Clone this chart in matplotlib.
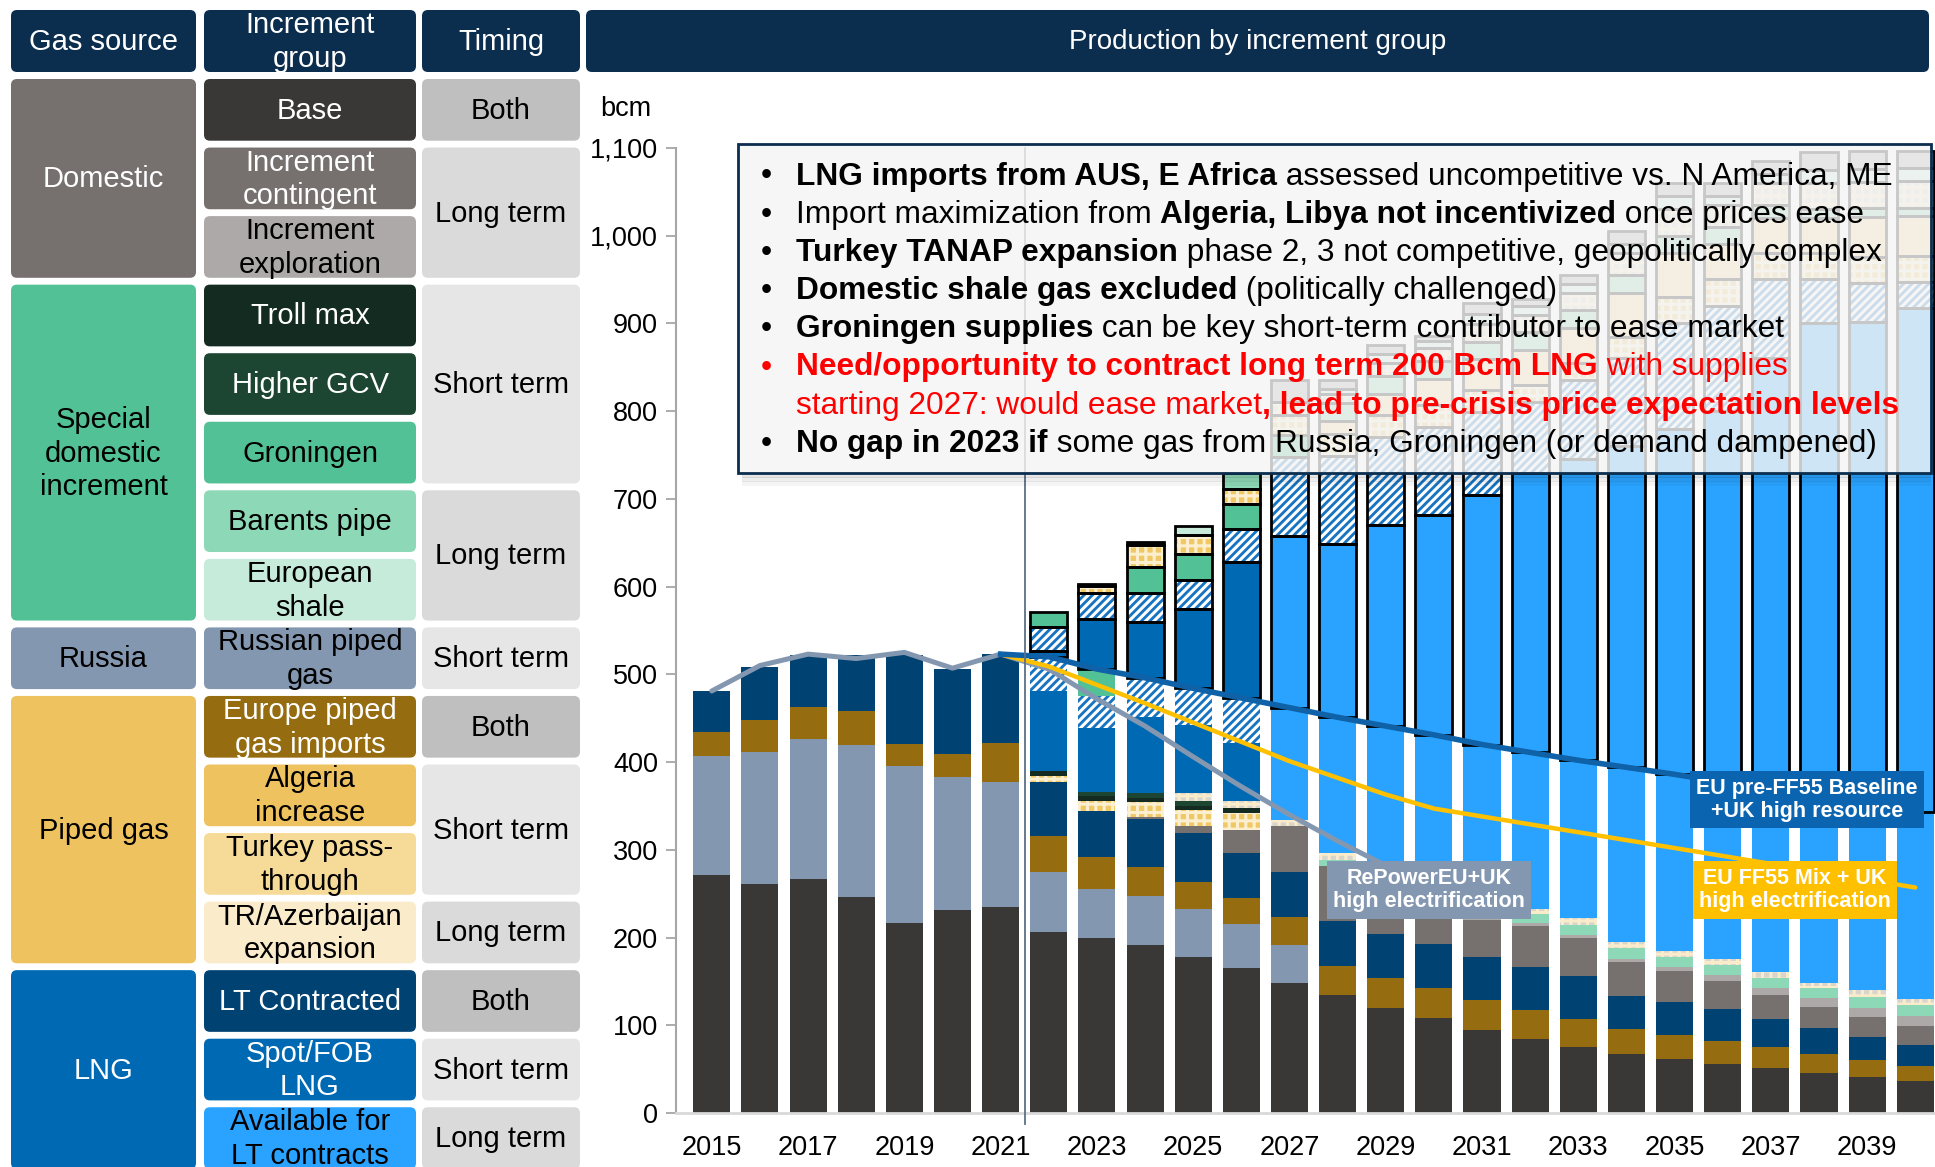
import numpy as np
import matplotlib
matplotlib.use('Agg')
import matplotlib.pyplot as plt
from matplotlib.patches import FancyBboxPatch, Rectangle

plt.rcParams['font.family'] = ['Liberation Sans', 'DejaVu Sans']
plt.rcParams['hatch.linewidth'] = 2.2

# ---------------- data (bcm) ----------------
years = list(range(2015, 2041))
up_years = list(range(2022, 2041))

# supply stack below the baseline demand line
base = [271, 261, 267, 246, 217, 231, 235, 206, 199, 191, 178, 165, 148, 134, 120, 108, 95, 84, 75, 67, 62, 56, 51, 46, 41, 37]
russian = [136, 150, 159, 173, 178, 152, 142, 69, 56, 56, 54, 50, 44, 0, 0, 0, 0, 0, 0, 0, 0, 0, 0, 0, 0, 0]
eu_piped = [27, 37, 37, 39, 26, 26, 45, 41, 37, 33, 31, 30, 31, 33, 34, 34, 34, 33, 32, 29, 27, 26, 24, 21, 19, 16]
lt_contracted = [47, 60, 59, 64, 101, 97, 101, 61, 52, 55, 56, 51, 52, 52, 50, 51, 49, 49, 49, 37, 37, 37, 32, 30, 27, 25]
contingent = [0, 0, 0, 0, 0, 0, 0, 0, 0, 2, 8, 27, 52, 62, 46, 44, 42, 47, 44, 39, 36, 32, 28, 24, 22, 21]
exploration = [0, 0, 0, 0, 0, 0, 0, 0, 0, 0, 0, 0, 0, 0, 0, 2, 3, 3, 3, 4, 4, 6, 8, 10, 11, 12]
barents = [0, 0, 0, 0, 0, 0, 0, 0, 0, 0, 0, 0, 0, 7, 8, 8, 9, 11, 11, 12, 12, 12, 11, 11, 12, 12]
algeria = [0, 0, 0, 0, 0, 0, 0, 7, 12, 17, 18, 19, 0, 0, 0, 0, 0, 0, 0, 0, 0, 0, 0, 0, 0, 0]
troll = [0, 0, 0, 0, 0, 0, 0, 6, 5, 5, 5, 6, 0, 0, 0, 0, 0, 0, 0, 0, 0, 0, 0, 0, 0, 0]
gcv = [0, 0, 0, 0, 0, 0, 0, 0, 5, 6, 6, 0, 0, 0, 0, 0, 0, 0, 0, 0, 0, 0, 0, 0, 0, 0]
tr_az = [0, 0, 0, 0, 0, 0, 0, 0, 0, 0, 9, 8, 7, 8, 8, 7, 6, 6, 8, 7, 7, 7, 7, 6, 8, 7]
spot = [0, 0, 0, 0, 0, 0, 0, 91, 73, 86, 77, 66, 0, 0, 0, 0, 0, 0, 0, 0, 0, 0, 0, 0, 0, 0]
lng_uncomp = [0, 0, 0, 0, 0, 0, 0, 39, 36, 45, 42, 51, 0, 0, 0, 0, 0, 0, 0, 0, 0, 0, 0, 0, 0, 0]
groningen = [0, 0, 0, 0, 0, 0, 0, 0, 31, 0, 0, 0, 0, 0, 0, 0, 0, 0, 0, 0, 0, 0, 0, 0, 0, 0]
available = [0, 0, 0, 0, 0, 0, 0, 0, 0, 0, 0, 0, 128, 155, 175, 177, 182, 178, 180, 199, 201, 201, 207, 212, 211, 213]

# supply available above the baseline demand (2022-2040)
up_spot = [7, 57, 64, 91, 155, 0, 0, 0, 0, 0, 0, 0, 0, 0, 0, 0, 0, 0, 0]
up_available = [0, 0, 0, 0, 0, 196, 198, 229, 251, 284, 319, 343, 366, 394, 423, 492, 540, 550, 574]
up_uncomp = [27, 30, 33, 32, 38, 90, 100, 100, 100, 95, 80, 90, 100, 120, 120, 90, 50, 45, 30]
up_groningen = [17, 0, 29, 30, 28, 25, 0, 0, 0, 0, 0, 0, 0, 0, 0, 0, 0, 0, 0]
up_algeria = [0, 8, 25, 22, 17, 22, 25, 25, 25, 25, 20, 20, 25, 30, 30, 30, 30, 30, 30]
up_turkey = [0, 0, 0, 0, 0, 0, 15, 25, 30, 35, 40, 40, 50, 50, 40, 40, 40, 45, 45]
up_troll = [0, 2, 4, 0, 0, 0, 0, 0, 0, 0, 0, 0, 0, 0, 0, 0, 0, 0, 0]
up_barents = [0, 0, 0, 0, 18, 0, 20, 20, 20, 20, 20, 20, 20, 20, 20, 15, 10, 10, 10]
up_traz = [0, 0, 0, 0, 0, 15, 10, 15, 15, 20, 20, 20, 25, 30, 25, 25, 30, 30, 30]
up_shale = [0, 0, 0, 10, 0, 0, 6, 10, 8, 12, 10, 10, 10, 15, 10, 10, 15, 15, 15]
up_exploration = [0, 0, 0, 0, 0, 25, 10, 10, 6, 12, 8, 10, 15, 15, 15, 15, 20, 20, 20]

# demand scenarios
baseline_years = list(range(2021, 2041))
baseline = [523, 520, 506, 496, 484, 473, 462, 451, 441, 431, 420, 411, 402, 394, 386, 377, 368, 360, 351, 343]
ff55 = [523, 509, 488, 467, 445, 423, 401, 382, 363, 347, 338, 329, 320, 311, 302, 293, 284, 275, 266, 257]
repower_years = list(range(2015, 2030))
repower = [481, 510, 523, 518, 525, 507, 523, 506, 472, 441, 406, 372, 340, 310, 282]

ytick_vals = list(range(0, 1101, 100))
ytick_labels = ['0', '100', '200', '300', '400', '500', '600', '700', '800', '900', '1,000', '1,100']
xtick_vals = list(range(2015, 2040, 2))

# ---------------- styles ----------------
styles = {
    'base': dict(color='#3A3837'),
    'russian': dict(color='#8497B0'),
    'eu_piped': dict(color='#956C10'),
    'lt': dict(color='#004272'),
    'contingent': dict(color='#76716F'),
    'exploration': dict(color='#ADA9A8'),
    'barents': dict(color='#8DD8B6'),
    'algeria': dict(color='#F0C866', hatch='++', hc='#FBEFD0'),
    'turkey': dict(color='#F6DA97'),
    'troll': dict(color='#132B20'),
    'gcv': dict(color='#1C4632'),
    'traz': dict(color='#D8D5CD', hatch='++', hc='#FAEBCB'),
    'spot': dict(color='#0069B3'),
    'uncomp': dict(color='#1874C1', hatch='////', hc='white'),
    'groningen': dict(color='#52C195'),
    'shale': dict(color='#C6EBDA'),
    'available': dict(color='#29A3FF'),
}

fig = plt.figure(figsize=(19.35, 11.67), dpi=100)
ax = fig.add_axes([676 / 1935, 1 - 1113 / 1167, 1 - 676 / 1935, (1113 - 77.7) / 1167])
ax.set_xlim(2014.256, 2040.41)
ax.set_ylim(0, 1180)

W = 0.77


def stack(xs, series, bottom, outline):
    xs = np.array(xs, float)
    bottom = np.array(bottom, float)
    for key, vals in series:
        vals = np.array(vals, float)
        st = styles[key]
        m = vals > 0
        if not m.any():
            continue
        ax.bar(xs[m], vals[m], bottom=bottom[m], width=W, color=st['color'],
               hatch=st.get('hatch'), edgecolor=st.get('hc', 'none'), linewidth=0, zorder=2)
        if outline:
            ax.bar(xs[m], vals[m], bottom=bottom[m], width=W, fill=False,
                   edgecolor='black', linewidth=2.0, zorder=3)
        bottom = bottom + vals


lower = [('base', base), ('russian', russian), ('eu_piped', eu_piped), ('lt', lt_contracted),
         ('contingent', contingent), ('exploration', exploration), ('barents', barents),
         ('algeria', algeria), ('troll', troll), ('gcv', gcv), ('traz', tr_az), ('spot', spot),
         ('uncomp', lng_uncomp), ('groningen', groningen), ('available', available)]
stack(years, lower, np.zeros(len(years)), False)

upper = [('spot', up_spot), ('available', up_available), ('uncomp', up_uncomp),
         ('groningen', up_groningen), ('algeria', up_algeria), ('turkey', up_turkey),
         ('troll', up_troll), ('barents', up_barents), ('traz', up_traz),
         ('shale', up_shale), ('exploration', up_exploration)]
stack(up_years, upper, baseline[1:], True)

# demand lines
ax.plot(repower_years, repower, color='#8497B0', lw=3.6, zorder=4, solid_capstyle='round')
ax.plot(baseline_years, ff55, color='#FFC000', lw=3.2, zorder=4, solid_capstyle='round')
ax.plot(baseline_years, baseline, color='#0F62A8', lw=4.0, zorder=4)
ax.plot([2021.5, 2021.5], [-12, 1100], color='#5B7086', lw=1.3, zorder=4, clip_on=False)

lab = dict(ha='center', va='center', color='white', weight='bold', fontsize=15.5, linespacing=1.15, zorder=6)
ax.text(2037.75, 357, 'EU pre-FF55 Baseline\n+UK high resource',
        bbox=dict(boxstyle='square,pad=0.3', fc='#0B64AF', ec='none'), **lab)
ax.text(2037.5, 254, 'EU FF55 Mix + UK\nhigh electrification',
        bbox=dict(boxstyle='square,pad=0.3', fc='#FFC000', ec='none'), **lab)
ax.text(2029.9, 254, 'RePowerEU+UK\nhigh electrification',
        bbox=dict(boxstyle='square,pad=0.3', fc='#8497B0', ec='none'), **lab)

# axes styling
for s in ['top', 'right']:
    ax.spines[s].set_visible(False)
ax.spines['left'].set_color('#A6A6A6')
ax.spines['left'].set_linewidth(1.5)
ax.spines['left'].set_bounds(0, 1100)
ax.spines['bottom'].set_color('#D9D9D9')
ax.spines['bottom'].set_linewidth(2)
ax.set_yticks(ytick_vals)
ax.set_yticklabels(ytick_labels)
ax.set_xticks(xtick_vals)
ax.set_xticklabels([str(y) for y in xtick_vals])
ax.tick_params(axis='y', length=7, width=1.3, color='#A6A6A6', labelsize=19.5, pad=6)
ax.tick_params(axis='x', length=0, labelsize=19.5, pad=16)

# ---------------- table, headers and note box (pixel coordinates) ----------------
tab = fig.add_axes([0, 0, 1, 1])
tab.set_xlim(0, 1935)
tab.set_ylim(1167, 0)
tab.axis('off')

HEAD = '#0B2D4E'


def cell(x0, x1, y0, y1, fc, text, tc, size=21):
    tab.add_patch(FancyBboxPatch((x0, y0), x1 - x0, y1 - y0,
                                 boxstyle='round,pad=0,rounding_size=6', fc=fc, ec='none'))
    tab.text((x0 + x1) / 2, (y0 + y1) / 2 + 1, text, ha='center', va='center', color=tc,
             fontsize=size, linespacing=1.26)


cols = [(11, 196), (204, 416), (422, 580)]
cell(*cols[0], 10, 72, HEAD, 'Gas source', 'white')
cell(*cols[1], 10, 72, HEAD, 'Increment\ngroup', 'white')
cell(*cols[2], 10, 72, HEAD, 'Timing', 'white')
cell(586, 1929, 10, 72, HEAD, 'Production by increment group', 'white', 20)

ROW0, PITCH, RH = 79, 68.55, 61.7


def rtop(i):
    return ROW0 + i * PITCH


sources = [('Domestic', 0, 3, '#76706F', 'white'),
           ('Special\ndomestic\nincrement', 3, 8, '#52C195', 'black'),
           ('Russia', 8, 9, '#8497B0', 'black'),
           ('Piped gas', 9, 13, '#EEC25E', 'black'),
           ('LNG', 13, 16, '#0069B3', 'white')]
groups = [('Base', '#3A3837', 'white'), ('Increment\ncontingent', '#76716F', 'white'),
          ('Increment\nexploration', '#ADA9A8', 'black'), ('Troll max', '#132B20', 'white'),
          ('Higher GCV', '#1C4632', 'white'), ('Groningen', '#52C195', 'black'),
          ('Barents pipe', '#8DD8B6', 'black'), ('European\nshale', '#C6EBDA', 'black'),
          ('Russian piped\ngas', '#8497B0', 'black'), ('Europe piped\ngas imports', '#956C10', 'white'),
          ('Algeria\nincrease', '#EEC25E', 'black'), ('Turkey pass-\nthrough', '#F6DA97', 'black'),
          ('TR/Azerbaijan\nexpansion', '#FAEBCB', 'black'), ('LT Contracted', '#004272', 'white'),
          ('Spot/FOB\nLNG', '#0069B3', 'white'), ('Available for\nLT contracts', '#29A3FF', 'black')]
timing_fc = {'Both': '#BFBFBF', 'Short term': '#E6E6E6', 'Long term': '#DADADA'}
timings = [('Both', 0, 1), ('Long term', 1, 3), ('Short term', 3, 6), ('Long term', 6, 8),
           ('Short term', 8, 9), ('Both', 9, 10), ('Short term', 10, 12), ('Long term', 12, 13),
           ('Both', 13, 14), ('Short term', 14, 15), ('Long term', 15, 16)]

for name, a, b, fc, tc in sources:
    cell(*cols[0], rtop(a), rtop(b - 1) + RH, fc, name, tc)
for i, (name, fc, tc) in enumerate(groups):
    cell(*cols[1], rtop(i), rtop(i) + RH, fc, name, tc)
for name, a, b in timings:
    cell(*cols[2], rtop(a), rtop(b - 1) + RH, timing_fc[name], name, 'black')

tab.text(626, 109, 'bcm', ha='center', va='center', fontsize=19.5)

# note box
for k, a in enumerate([0.10, 0.07, 0.04]):
    tab.add_patch(Rectangle((742, 473 + 4 * k), 1189, 5, fc='black', alpha=a, ec='none'))
tab.add_patch(Rectangle((738, 144), 1193, 329, fc='#F4F4F4', alpha=0.82, ec='none'))
tab.add_patch(Rectangle((738, 144), 1193, 329, fill=False, ec=HEAD, lw=2))

RED = '#FF0000'
notes = [
    (True, [('LNG imports from AUS, E Africa', 'bold', 'black'),
            (' assessed uncompetitive vs. N America, ME', 'normal', 'black')]),
    (True, [('Import maximization from ', 'normal', 'black'),
            ('Algeria, Libya not incentivized', 'bold', 'black'),
            (' once prices ease', 'normal', 'black')]),
    (True, [('Turkey TANAP expansion', 'bold', 'black'),
            (' phase 2, 3 not competitive, geopolitically complex', 'normal', 'black')]),
    (True, [('Domestic shale gas excluded', 'bold', 'black'),
            (' (politically challenged)', 'normal', 'black')]),
    (True, [('Groningen supplies', 'bold', 'black'),
            (' can be key short-term contributor to ease market', 'normal', 'black')]),
    (True, [('Need/opportunity to contract long term 200 Bcm LNG', 'bold', RED),
            (' with supplies', 'normal', RED)]),
    (False, [('starting 2027: would ease market', 'normal', RED),
             (', lead to pre-crisis price expectation levels', 'bold', RED)]),
    (True, [('No gap in 2023 if', 'bold', 'black'),
            (' some gas from Russia, Groningen (or demand dampened)', 'normal', 'black')]),
]
NOTE_FS = 22.8
for i, (bullet, parts) in enumerate(notes):
    y = 176.5 + i * 38.2
    if bullet:
        tab.text(766, y, '•', ha='center', va='center', fontsize=NOTE_FS, color=parts[0][2])
    t = tab.text(796, y, parts[0][0], ha='left', va='center', fontsize=NOTE_FS,
                 weight=parts[0][1], color=parts[0][2])
    for s, w, c in parts[1:]:
        t = tab.annotate(s, xycoords=t, xy=(1, 0), va='bottom', ha='left',
                         fontsize=NOTE_FS, weight=w, color=c)

fig.savefig('out.png', dpi=100)
